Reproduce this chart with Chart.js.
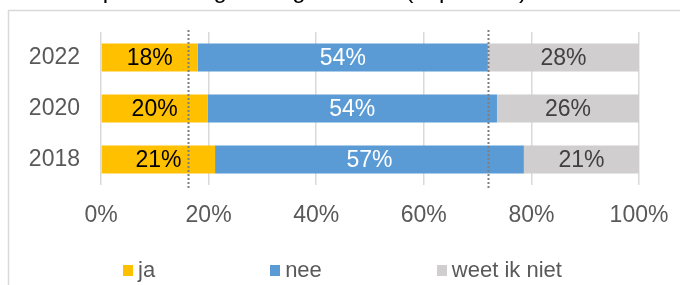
<!DOCTYPE html>
<html>
<head>
<meta charset="utf-8">
<script src="https://cdn.jsdelivr.net/npm/chart.js@4.4.1/dist/chart.umd.min.js"></script>
<style>
  html, body { margin: 0; padding: 0; background: #ffffff; }
  #wrap { position: relative; width: 680px; height: 285px; overflow: hidden; }
  #c { position: absolute; left: 0; top: 0; }
  #legend { position: absolute; left: 123px; top: 257px; display: flex;
            font: 22px 'Liberation Sans', Arial, sans-serif; color: #595959; line-height: 26px; }
  #legend .item { display: flex; align-items: center; margin-right: 115px; white-space: nowrap; }
  #legend .box { width: 10px; height: 11px; margin-right: 5px; }
</style>
</head>
<body>
<div id="wrap">
  <canvas id="c" width="680" height="285"></canvas>
  <div id="legend"></div>
</div>
<script>
// ---- data ----
const categories = ['2022', '2020', '2018'];
const seriesNames = ['ja', 'nee', 'weet ik niet'];
const ja = [18.0, 19.8, 21.2];
const nee = [53.9, 53.8, 57.4];
const weetIkNiet = [28.1, 26.4, 21.4];
const xTickValues = [0, 20, 40, 60, 80, 100];
const referenceLines = [16.1, 71.9];
const titleText = 'Ervaren polarisering in de gemeente (in procent)';

const FONT = "'Liberation Sans', Arial, sans-serif";

const framePlugin = {
  id: 'frame',
  beforeDraw(chart) {
    const ctx = chart.ctx;
    ctx.save();
    // title, mostly cut off above the picture
    ctx.font = '24px ' + FONT;
    ctx.fillStyle = '#000000';
    ctx.textBaseline = 'alphabetic';
    ctx.textAlign = 'left';
    ctx.fillText(titleText, 12, -2);
    // frame
    ctx.strokeStyle = '#d9d9d9';
    ctx.lineWidth = 1.5;
    ctx.beginPath();
    ctx.moveTo(8.5, chart.height);
    ctx.lineTo(8.5, 10.5);
    ctx.lineTo(chart.width, 10.5);
    ctx.stroke();
    ctx.restore();
  }
};

const overlayPlugin = {
  id: 'overlay',
  afterDatasetsDraw(chart) {
    const ctx = chart.ctx;
    const xs = chart.scales.x;
    const area = chart.chartArea;
    ctx.save();
    // dotted reference lines
    ctx.strokeStyle = '#7f7f7f';
    ctx.lineWidth = 2;
    ctx.setLineDash([2, 2]);
    referenceLines.forEach(v => {
      const px = Math.round(xs.getPixelForValue(v)) + 0.5;
      ctx.beginPath();
      ctx.moveTo(px, area.top - 2);
      ctx.lineTo(px, area.bottom + 3);
      ctx.stroke();
    });
    ctx.setLineDash([]);
    // value labels
    ctx.font = '23px ' + FONT;
    ctx.textAlign = 'center';
    ctx.textBaseline = 'middle';
    chart.data.datasets.forEach((ds, di) => {
      const meta = chart.getDatasetMeta(di);
      ctx.fillStyle = ds.labelColor;
      meta.data.forEach((el, i) => {
        const p = el.getProps(['x', 'y', 'base'], true);
        const cx = (p.x + p.base) / 2;
        ctx.fillText(Math.round(ds.data[i]) + '%', cx, p.y + 1);
      });
    });
    ctx.restore();
  }
};

const chart = new Chart(document.getElementById('c'), {
  type: 'bar',
  data: {
    labels: categories,
    datasets: [
      { label: seriesNames[0], data: ja, backgroundColor: '#FFC000', labelColor: '#000000' },
      { label: seriesNames[1], data: nee, backgroundColor: '#5B9BD5', labelColor: '#ffffff' },
      { label: seriesNames[2], data: weetIkNiet, backgroundColor: '#D0CECE', labelColor: '#404040' }
    ]
  },
  options: {
    indexAxis: 'y',
    responsive: false,
    animation: false,
    devicePixelRatio: 1,
    datasets: { bar: { barPercentage: 0.55, categoryPercentage: 1, borderWidth: 0 } },
    layout: { padding: { top: 32, left: 10, right: 41, bottom: 40 } },
    plugins: { legend: { display: false }, title: { display: false }, tooltip: { enabled: false } },
    scales: {
      x: {
        stacked: true, min: 0, max: 100,
        afterBuildTicks(s) { s.ticks = xTickValues.map(v => ({ value: v })); },
        afterFit(s) { s.height = 60; s.paddingLeft = 0; s.paddingRight = 0; },
        grid: { color: '#d9d9d9', lineWidth: 1.5, drawTicks: false },
        border: { display: false },
        ticks: { padding: 17, color: '#595959', font: { size: 23, family: FONT }, maxRotation: 0,
                 callback: v => v + '%' }
      },
      y: {
        stacked: true,
        afterFit(s) { s.width = 91; s.paddingTop = 0; s.paddingBottom = 0; },
        grid: { display: false, drawTicks: false },
        border: { display: false },
        ticks: { padding: 21, color: '#595959', font: { size: 23, family: FONT } }
      }
    }
  },
  plugins: [framePlugin, overlayPlugin]
});

// HTML legend built from the chart's datasets
const legendEl = document.getElementById('legend');
chart.data.datasets.forEach(ds => {
  const item = document.createElement('div');
  item.className = 'item';
  const box = document.createElement('span');
  box.className = 'box';
  box.style.background = ds.backgroundColor;
  const txt = document.createElement('span');
  txt.textContent = ds.label;
  item.appendChild(box);
  item.appendChild(txt);
  legendEl.appendChild(item);
});
</script>
</body>
</html>
